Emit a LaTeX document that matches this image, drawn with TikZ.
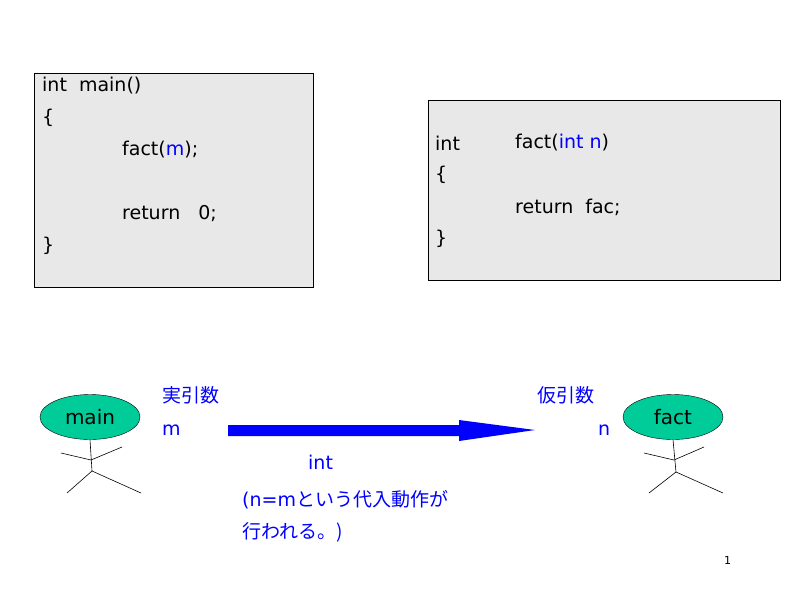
\documentclass[tikz,border=0pt]{standalone}
\usepackage{fontspec}
\usetikzlibrary{shapes.geometric}
\setmainfont{DejaVu Sans}
\newfontfamily\cjk{Noto Sans CJK JP}
\definecolor{boxgray}{HTML}{E8E8E8}
\definecolor{ellgreen}{HTML}{00CC99}
\begin{document}
\begin{tikzpicture}[x=1pt,y=-1pt,
  code/.style={anchor=west,inner sep=0pt,font=\fontsize{19}{22}\selectfont},
  lab/.style={anchor=west,inner sep=0pt,text=blue,font=\fontsize{19}{22}\selectfont},
  codebox/.style={draw=black,fill=boxgray,line width=0.5pt},
  actor/.style={ellipse,draw=black,fill=ellgreen,minimum width=100pt,minimum height=45pt,inner sep=0pt,font=\fontsize{20}{22}\selectfont},
  limb/.style={draw=black,line width=0.6pt}]
\useasboundingbox (0,0) rectangle (800,600);
\fill[white] (0,0) rectangle (800,600);
\node[codebox,minimum width=279pt,minimum height=214pt,anchor=north west,inner sep=0pt] (b1) at (34,73) {};
\node[codebox,minimum width=352pt,minimum height=180pt,anchor=north west,inner sep=0pt] (b2) at (428,100) {};
\node[code] (l1) at (42,86) {int\ \ main()};
\node[code] (l2) at (42,118) {\{};
\node[code] (l3) at (122,150) {fact(\textcolor{blue}{m});};
\node[code] (l4) at (122,214) {return\ \ \ 0;};
\node[code] (l5) at (42,246) {\}};
\node[code] (r1) at (435,143) {int};
\node[code] (r1b) at (515,143) {fact(\textcolor{blue}{int n})};
\node[code] (r2) at (435,175) {\{};
\node[code] (r3) at (515,207) {return\ \ fac;};
\node[code] (r4) at (435,239) {\}};
\node[actor] (main) at (90,417) {main};
\node[actor] (fact) at (673,417) {fact};
% stick figures
\coordinate (mh) at (92,471);
\draw[limb] (main.south) -- (mh);
\draw[limb] (61,453) -- (91,460) -- (122,447);
\draw[limb] (67,493) -- (mh) -- (141,493);
\coordinate (fh) at (676,472);
\draw[limb] (fact.south) -- (fh);
\draw[limb] (644,453) -- (674,460) -- (704,447);
\draw[limb] (649,493) -- (fh) -- (723,493);
% arrow
\coordinate (as) at (228,430);
\coordinate (ae) at (535,430);
\fill[blue] (228,425) -- (459,425) -- (459,420) -- (ae) -- (459,441) -- (459,436) -- (228,436) -- cycle;
\node[lab] (t1) at (162,395) {\cjk 実引数};
\node[lab] (t2) at (162,430) {m};
\node[lab] (t3) at (537,395) {\cjk 仮引数};
\node[lab] (t4) at (598,430) {n};
\node[lab] (t5) at (308,462) {int};
\node[lab] (t6) at (242,500) {(n=m\cjk という代入動作が};
\node[lab] (t7) at (242,532) {\cjk 行われる。)};
\node[anchor=west,inner sep=0pt,font=\fontsize{11}{12}\selectfont] (pg) at (724,560) {1};
\end{tikzpicture}
\end{document}
